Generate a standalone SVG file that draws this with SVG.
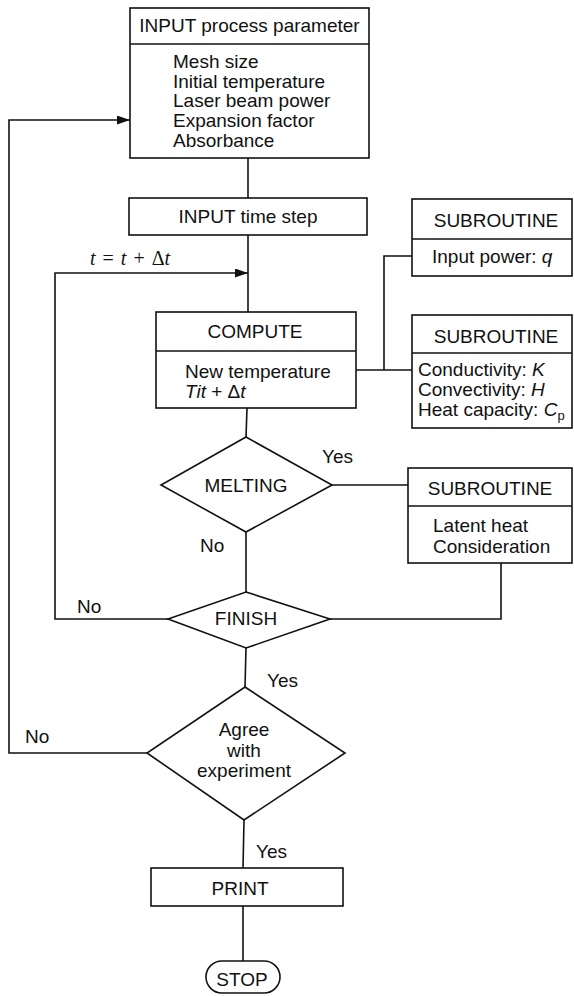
<svg xmlns="http://www.w3.org/2000/svg" width="574" height="996" viewBox="0 0 574 996">
<defs>
<style>
.b{fill:#fff;stroke:#111;stroke-width:1.6}
.l{fill:none;stroke:#111;stroke-width:1.6}
text{font-family:"Liberation Sans",Arial,sans-serif;font-size:19px;fill:#111}
.c{text-anchor:middle}
.i{font-style:italic}
.m{font-family:"Liberation Serif","Times New Roman",serif;font-size:20px;word-spacing:2px}
</style>
<marker id="ar" markerUnits="userSpaceOnUse" markerWidth="13" markerHeight="9" refX="13" refY="4.5" orient="auto">
<path d="M0,0 L13,4.5 L0,9 z" fill="#111"/>
</marker>
</defs>
<rect width="574" height="996" fill="#fff"/>
<g id="connectors">
<line class="l" x1="248" y1="158" x2="248" y2="198"/>
<line class="l" x1="248" y1="235" x2="248" y2="312"/>
<polyline class="l" points="168,619 55,619 55,273 248,273" marker-end="url(#ar)"/>
<polyline class="l" points="147,753 9,753 9,120 130,120" marker-end="url(#ar)"/>
<line class="l" x1="247" y1="408" x2="246" y2="437"/>
<line class="l" x1="356" y1="370" x2="412" y2="370"/>
<polyline class="l" points="384,370 384,256 412,256"/>
<line class="l" x1="332" y1="485" x2="408" y2="485"/>
<polyline class="l" points="501,563 501,619 330,619"/>
<line class="l" x1="246" y1="532" x2="246" y2="592"/>
<line class="l" x1="246" y1="648" x2="245" y2="687"/>
<line class="l" x1="244" y1="820" x2="243" y2="868"/>
<line class="l" x1="243" y1="906" x2="243" y2="961"/>
<text x="90" y="265" class="m"><tspan class="i">t</tspan> = <tspan class="i">t</tspan> + Δ<tspan class="i">t</tspan></text>
<text x="322" y="463">Yes</text>
<text x="200" y="552">No</text>
<text x="77" y="613">No</text>
<text x="267" y="687">Yes</text>
<text x="25" y="743">No</text>
<text x="256" y="858">Yes</text>
</g>
<g id="input-params">
<rect class="b" x="130" y="8" width="239" height="150"/>
<line class="l" x1="130" y1="44" x2="369" y2="44"/>
<text x="249.5" y="32" class="c">INPUT process parameter</text>
<text x="173" y="68">Mesh size</text>
<text x="173" y="87.5">Initial temperature</text>
<text x="173" y="107">Laser beam power</text>
<text x="173" y="127">Expansion factor</text>
<text x="173" y="147">Absorbance</text>
</g>
<g id="input-time">
<rect class="b" x="129" y="198" width="238" height="37"/>
<text x="248" y="223" class="c">INPUT time step</text>
</g>
<g id="compute">
<rect class="b" x="156" y="312" width="200" height="96"/>
<line class="l" x1="156" y1="351" x2="356" y2="351"/>
<text x="255" y="338" class="c">COMPUTE</text>
<text x="185" y="378">New temperature</text>
<text x="185" y="398"><tspan class="i">Tit</tspan> + Δ<tspan class="i">t</tspan></text>
</g>
<g id="sub-power">
<rect class="b" x="412" y="199" width="160" height="77"/>
<line class="l" x1="412" y1="239" x2="572" y2="239"/>
<text x="496" y="227" class="c">SUBROUTINE</text>
<text x="432" y="263">Input power: <tspan class="i">q</tspan></text>
</g>
<g id="sub-props">
<rect class="b" x="412" y="315" width="160" height="113"/>
<line class="l" x1="412" y1="353" x2="572" y2="353"/>
<text x="496" y="343" class="c">SUBROUTINE</text>
<text x="418" y="376">Conductivity: <tspan class="i">K</tspan></text>
<text x="418" y="396">Convectivity: <tspan class="i">H</tspan></text>
<text x="418" y="416">Heat capacity: <tspan class="i">C</tspan><tspan font-size="13" dy="4">p</tspan></text>
</g>
<g id="melting">
<polygon class="b" points="246,437 332,485 246,532 161,485"/>
<text x="246" y="492" class="c">MELTING</text>
</g>
<g id="sub-latent">
<rect class="b" x="408" y="468" width="164" height="95"/>
<line class="l" x1="408" y1="506" x2="572" y2="506"/>
<text x="490" y="495" class="c">SUBROUTINE</text>
<text x="433" y="532">Latent heat</text>
<text x="433" y="553">Consideration</text>
</g>
<g id="finish">
<polygon class="b" points="246,592 330,619 246,648 168,619"/>
<text x="246" y="625" class="c">FINISH</text>
</g>
<g id="agree">
<polygon class="b" points="245,687 345,753 244,820 147,753"/>
<text x="244" y="736" class="c">Agree</text>
<text x="244" y="757" class="c">with</text>
<text x="244" y="777" class="c">experiment</text>
</g>
<g id="print">
<rect class="b" x="151" y="868" width="192" height="38"/>
<text x="240" y="895" class="c">PRINT</text>
</g>
<g id="stop">
<rect class="b" x="206" y="961" width="74" height="32" rx="16"/>
<text x="242" y="986" class="c">STOP</text>
</g>
</svg>
